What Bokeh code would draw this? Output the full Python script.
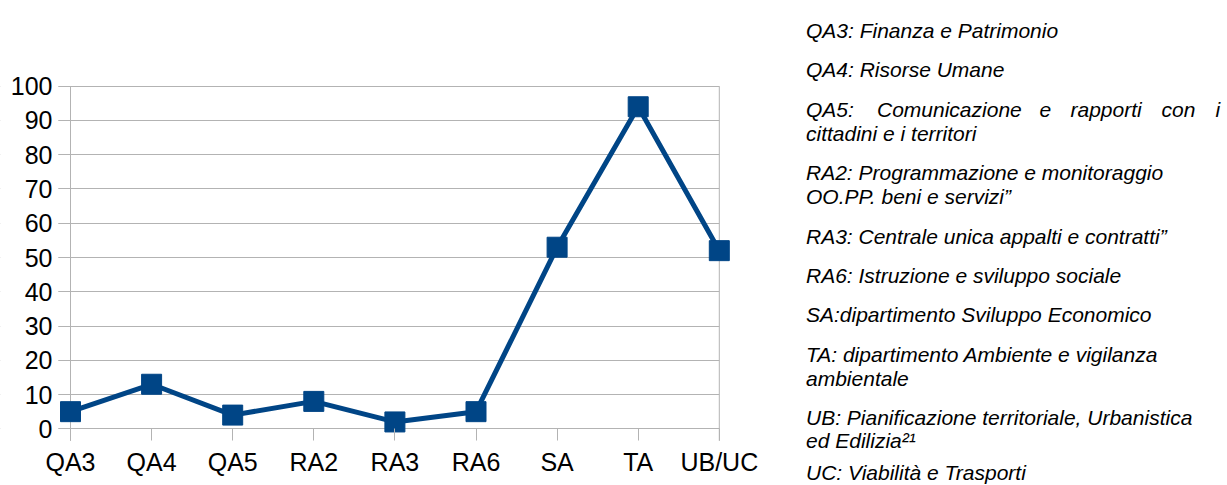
from bokeh.plotting import figure
from bokeh.models import Range1d, FixedTicker, BoxAnnotation
from bokeh.embed import file_html
from bokeh.resources import INLINE
from bokeh.core.properties import value

# ---- data ----
categories = ["QA3", "QA4", "QA5", "RA2", "RA3", "RA6", "SA", "TA", "UB/UC"]
values = [5, 13, 4, 8, 2, 5, 53, 94, 52]
y_ticks = [0, 10, 20, 30, 40, 50, 60, 70, 80, 90, 100]

note_lines = [
    "QA3: Finanza e Patrimonio",
    "QA4: Risorse Umane",
    None,  # justified line, drawn word by word
    "cittadini e i territori",
    "RA2: Programmazione e monitoraggio",
    "OO.PP. beni e servizi\u201d",
    "RA3: Centrale unica appalti e contratti\u201d",
    "RA6: Istruzione e sviluppo sociale",
    "SA:dipartimento Sviluppo Economico",
    "TA: dipartimento Ambiente e vigilanza",
    "ambientale",
    "UB: Pianificazione territoriale, Urbanistica",
    "ed Edilizia\u00b2\u00b9",
    "UC: Viabilit\u00e0 e Trasporti",
]
justified_words = ["QA5:", "Comunicazione", "e", "rapporti", "con", "i"]

# ---- layout / style ----
COLOR = "#004586"
GRID = "#b3b3b3"
FONT = "Liberation Sans"

W, H = 1227, 485
X0_PX = 70.0           # pixel of first category
UNIT_X = 81.1          # px per category
UNIT_Y = 3.426         # px per value unit
ZERO_PX = 428.3        # pixel of value 0
PAD = 12.0             # tick length outside the plot lines
n = len(categories)

x = list(range(n))
x_start = -X0_PX / UNIT_X
x_end = (W - X0_PX) / UNIT_X
x_pad = -PAD / UNIT_X
y_start = -(H - ZERO_PX) / UNIT_Y
y_end = ZERO_PX / UNIT_Y
y_pad = -PAD / UNIT_Y

p = figure(width=W, height=H, x_range=Range1d(x_start, x_end),
           y_range=Range1d(y_start, y_end), output_backend="svg",
           toolbar_location=None, title=None, min_border=0)
p.outline_line_color = None
p.background_fill_color = "white"
p.border_fill_color = "white"

p.xgrid.visible = False
p.ygrid.grid_line_color = GRID
p.ygrid.ticker = FixedTicker(ticks=y_ticks)

# horizontal grid only spans from the tick marks to the last category
p.add_layout(BoxAnnotation(left=n - 1, fill_color="white", fill_alpha=1.0,
                           line_color=None, level="underlay"))
p.add_layout(BoxAnnotation(right=x_pad, fill_color="white", fill_alpha=1.0,
                           line_color=None, level="underlay"))

# vertical plot-area lines at first and last category
p.segment(x0=[0, n - 1], y0=[y_pad, y_pad], x1=[0, n - 1],
          y1=[y_ticks[-1], y_ticks[-1]], line_color=GRID, line_width=1)

p.line(x, values, line_width=5, color=COLOR)
p.scatter(x, values, marker="square", size=20, color=COLOR)

p.xaxis.ticker = FixedTicker(ticks=x)
p.xaxis.major_label_overrides = {i: c for i, c in enumerate(categories)}
p.xaxis.fixed_location = 0
p.yaxis.ticker = FixedTicker(ticks=y_ticks)
p.yaxis.fixed_location = 0
for ax in (p.xaxis, p.yaxis):
    ax.axis_line_color = None
    ax.major_tick_line_color = GRID
    ax.major_tick_in = 0
    ax.major_tick_out = int(PAD)
    ax.minor_tick_line_color = None
    ax.major_label_text_font = FONT
    ax.major_label_text_font_size = "25px"
    ax.major_label_text_color = "black"
p.yaxis.major_label_standoff = 6
p.xaxis.major_label_standoff = 7

# ---- notes (pixel-like coordinates through extra ranges) ----
p.extra_x_ranges["nx"] = Range1d(0, W)
p.extra_y_ranges["ny"] = Range1d(H, 0)

baselines = [29.5, 69, 109, 132.5, 172, 196, 235.5, 275, 314, 354, 377.5, 416.7, 440, 472]
NOTE_X = 805.5
tx, ty, tt = [], [], []
for txt, yb in zip(note_lines, baselines):
    if txt is not None:
        tx.append(NOTE_X); ty.append(yb); tt.append(txt)
p.text(tx, ty, text=tt, x_range_name="nx", y_range_name="ny",
       text_font=value(FONT), text_font_style="italic", text_font_size="21px",
       text_color="black", text_baseline="alphabetic", text_align="left")

word_x = [805.5, 876.5, 1039, 1070, 1161, 1215]
p.text(word_x, [baselines[2]] * len(justified_words), text=justified_words,
       x_range_name="nx", y_range_name="ny",
       text_font=value(FONT), text_font_style="italic", text_font_size="21px",
       text_color="black", text_baseline="alphabetic", text_align="left")

open("out.html", "w").write(file_html(p, INLINE))
